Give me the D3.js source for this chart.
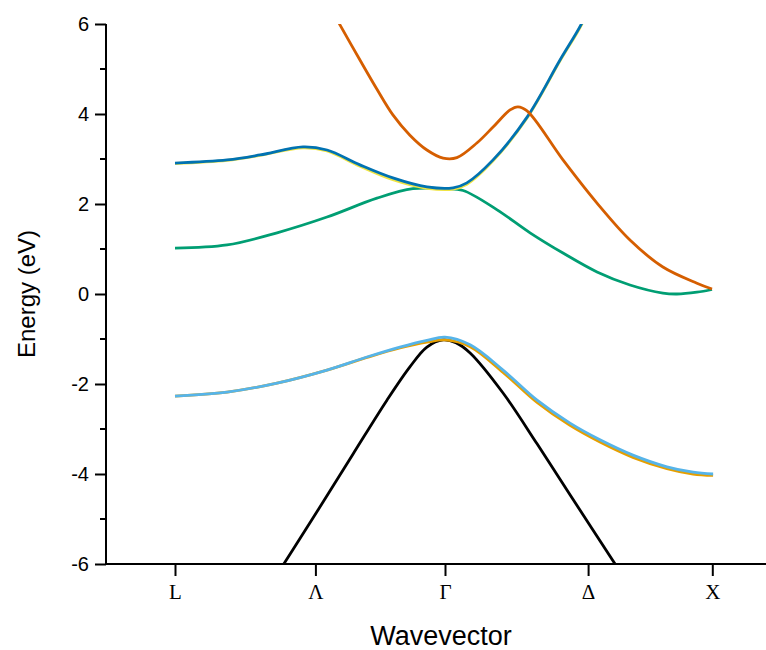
<!DOCTYPE html>
<html>
<head>
<meta charset="utf-8">
<script src="https://cdn.jsdelivr.net/npm/d3@7"></script>
<style>
  body { margin: 0; background: #fff; }
  svg { display: block; }
</style>
</head>
<body>
<div id="chart"></div>
<script>
const width = 766
const height = 650
const margin = {top: 24, right: 0, bottom: 86, left: 106}

// k-path coordinate: L = 0, Gamma = 1, X ~ 2
const kTicks = [0, 0.52, 1, 1.53, 1.99]
const kLabels = ['L', 'Λ', 'Γ', 'Δ', 'X']
const yMajor = [-6, -4, -2, 0, 2, 4, 6]
const yMinor = [-5, -3, -1, 1, 3, 5]

// bands, [k, energy in eV]
const bandBlack = [[0.339, -6.6], [0.511, -4.98], [0.659, -3.56], [0.785, -2.36], [0.87, -1.62],
  [0.933, -1.18], [0.993, -1.02], [1.04, -1.08], [1.093, -1.31], [1.215, -2.2], [1.341, -3.33], [1.463, -4.46],
  [1.63, -6.0], [1.696, -6.6]]
const bandOrange = [[0, -2.27], [0.193, -2.18], [0.378, -1.98], [0.563, -1.69], [0.711, -1.41], [0.833, -1.2],
  [0.933, -1.07], [1.0, -1.02], [1.093, -1.17], [1.215, -1.74], [1.341, -2.41], [1.463, -2.92], [1.574, -3.29],
  [1.696, -3.63], [1.822, -3.88], [1.919, -4.0], [1.993, -4.03]]
const bandSky = [[0, -2.27], [0.193, -2.18], [0.378, -1.98], [0.563, -1.69], [0.711, -1.4], [0.833, -1.18],
  [0.933, -1.03], [1.0, -0.96], [1.093, -1.13], [1.215, -1.69], [1.341, -2.36], [1.463, -2.87], [1.574, -3.24],
  [1.696, -3.58], [1.822, -3.84], [1.919, -3.96], [1.993, -4.0]]
const bandGreen = [[0, 1.02], [0.193, 1.09], [0.378, 1.36], [0.563, 1.71], [0.748, 2.13], [0.881, 2.34],
  [1.0, 2.34], [1.067, 2.3], [1.193, 1.87], [1.315, 1.36], [1.437, 0.91], [1.563, 0.49], [1.685, 0.2],
  [1.807, 0.02], [1.859, 0.0], [1.933, 0.04], [1.989, 0.1]]
const bandYellow = [[0, 2.9], [0.193, 2.97], [0.315, 3.08], [0.474, 3.25], [0.563, 3.18], [0.685, 2.84],
  [0.807, 2.54], [0.933, 2.35], [1.03, 2.33], [1.081, 2.44], [1.178, 2.96], [1.304, 3.91], [1.426, 5.18],
  [1.507, 6.0], [1.55, 6.6]]
const bandBlue = [[0, 2.91], [0.193, 2.98], [0.315, 3.09], [0.474, 3.27], [0.563, 3.2], [0.685, 2.87],
  [0.807, 2.58], [0.933, 2.38], [1.03, 2.36], [1.081, 2.47], [1.178, 2.98], [1.304, 3.93], [1.426, 5.2],
  [1.507, 6.02], [1.55, 6.6]]
const bandVermillion = [[0.563, 6.5], [0.611, 5.98], [0.685, 5.2], [0.748, 4.55], [0.807, 3.98], [0.87, 3.53],
  [0.933, 3.2], [0.993, 3.02], [1.044, 3.03], [1.119, 3.36], [1.178, 3.71], [1.241, 4.09], [1.27, 4.16],
  [1.304, 4.07], [1.437, 2.98], [1.563, 2.02], [1.685, 1.2], [1.807, 0.6], [1.933, 0.24], [1.989, 0.11]]

const bands = [
  {data: bandBlack, color: '#000000'},
  {data: bandOrange, color: '#E69F00'},
  {data: bandSky, color: '#56B4E9'},
  {data: bandGreen, color: '#009E73'},
  {data: bandYellow, color: '#F0E442'},
  {data: bandBlue, color: '#0072B2'},
  {data: bandVermillion, color: '#D55E00'}
]

const x = d3.scaleLinear()
  .domain([1 - 339 / 270, 1 + 321 / 270])
  .range([margin.left, width - margin.right])
const y = d3.scaleLinear()
  .domain([-6, 6])
  .range([height - margin.bottom, margin.top])

const svg = d3.select('#chart').append('svg')
  .attr('width', width)
  .attr('height', height)

svg.append('clipPath').attr('id', 'plot-clip')
  .append('rect')
  .attr('x', margin.left)
  .attr('y', margin.top)
  .attr('width', width - margin.left - margin.right)
  .attr('height', height - margin.top - margin.bottom)

const line = d3.line()
  .x(d => x(d[0]))
  .y(d => y(d[1]))
  .curve(d3.curveCatmullRom.alpha(0.5))

svg.append('g')
  .attr('clip-path', 'url(#plot-clip)')
  .selectAll('path')
  .data(bands)
  .join('path')
  .attr('d', d => line(d.data))
  .attr('fill', 'none')
  .attr('stroke', d => d.color)
  .attr('stroke-width', 2.8)
  .attr('stroke-linejoin', 'round')

// y axis
const yAxis = svg.append('g')
  .attr('transform', `translate(${margin.left},0)`)
  .call(d3.axisLeft(y).tickValues(yMajor).tickSize(11).tickPadding(6).tickFormat(d => String(d)))
yAxis.append('g')
  .selectAll('line')
  .data(yMinor)
  .join('line')
  .attr('x1', -6)
  .attr('x2', 0)
  .attr('y1', d => y(d))
  .attr('y2', d => y(d))
  .attr('stroke', '#000')
  .attr('stroke-width', 2)

yAxis.select('.domain').attr('d', `M0,${y(6)}V${y(-6)}`)
yAxis.selectAll('.tick line').attr('stroke-width', 2)
yAxis.selectAll('.tick text')
  .attr('font-family', 'Liberation Sans, Arial, sans-serif')
  .attr('font-size', 20)
  .attr('fill', '#000')
yAxis.select('.domain').attr('stroke-width', 2)

// x axis
const xAxis = svg.append('g')
  .attr('transform', `translate(0,${y(-6)})`)
  .call(d3.axisBottom(x).tickValues(kTicks).tickSize(12).tickPadding(8).tickFormat((d, i) => kLabels[i]))
xAxis.select('.domain')
  .attr('d', `M${margin.left},0H${width}`)
  .attr('stroke-width', 2)
xAxis.selectAll('.tick line').attr('stroke-width', 2)
xAxis.selectAll('.tick text')
  .attr('font-family', 'Liberation Serif, Times New Roman, serif')
  .attr('font-size', 21)
  .attr('fill', '#000')

// axis titles
svg.append('text')
  .attr('x', 441)
  .attr('y', 645)
  .attr('text-anchor', 'middle')
  .attr('font-family', 'Liberation Sans, Arial, sans-serif')
  .attr('font-size', 27)
  .text('Wavevector')

svg.append('text')
  .attr('transform', `translate(35,${y(0)}) rotate(-90)`)
  .attr('text-anchor', 'middle')
  .attr('font-family', 'Liberation Sans, Arial, sans-serif')
  .attr('font-size', 24)
  .text('Energy (eV)')
</script>
</body>
</html>
